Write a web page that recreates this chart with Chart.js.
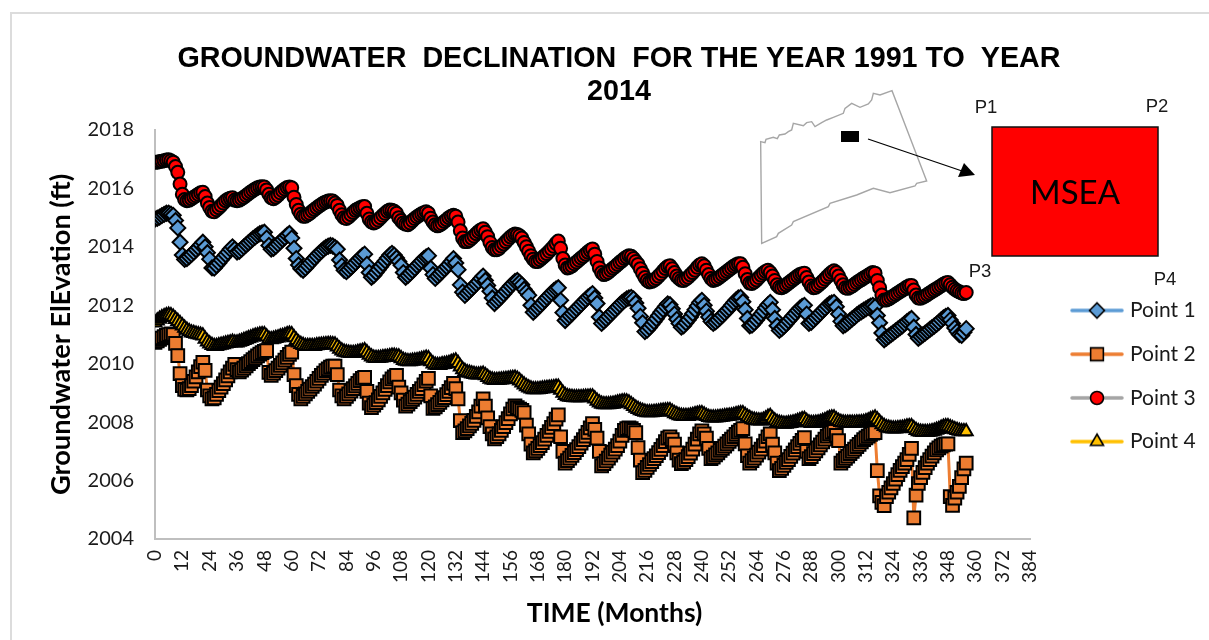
<!DOCTYPE html>
<html>
<head>
<meta charset="utf-8">
<title>Groundwater declination</title>
<script src="https://cdn.jsdelivr.net/npm/chart.js@4/dist/chart.umd.min.js"></script>
<style>
html,body{margin:0;padding:0;background:#fff;overflow:hidden}
canvas{display:block}
</style>
</head>
<body>
<canvas id="c" width="1209" height="640"></canvas>
<script>
const chartTitle = ['GROUNDWATER  DECLINATION  FOR THE YEAR 1991 TO  YEAR', '2014'];
const xTitle = 'TIME (Months)';
const yTitle = 'Groundwater ElEvation (ft)';
const seriesNames = ['Point 1', 'Point 2', 'Point 3', 'Point 4'];

const point1 = [
2014.95,2014.98,2015.02,2015.07,2015.11,2015.15,2015.15,2015.12,2015.08,2014.90,2014.65,2014.16,
2013.72,2013.57,2013.60,2013.67,2013.74,2013.82,2013.90,2013.98,2014.07,2014.16,2014.00,2013.80,
2013.58,2013.28,2013.27,2013.36,2013.45,2013.55,2013.64,2013.73,2013.82,2013.92,2014.00,2013.92,
2013.82,2013.85,2013.92,2014.00,2014.07,2014.14,2014.21,2014.28,2014.34,2014.40,2014.45,2014.48,
2014.50,2014.30,2014.05,2013.92,2013.95,2014.02,2014.10,2014.18,2014.25,2014.32,2014.40,2014.46,
2014.30,2013.95,2013.60,2013.38,2013.25,2013.20,2013.27,2013.36,2013.45,2013.53,2013.62,2013.70,
2013.78,2013.85,2013.92,2013.98,2014.02,2014.05,2014.03,2013.98,2013.92,2013.55,2013.35,2013.20,
2013.15,2013.22,2013.30,2013.38,2013.46,2013.54,2013.62,2013.70,2013.75,2013.40,2013.12,2012.96,
2013.02,2013.12,2013.22,2013.32,2013.42,2013.52,2013.62,2013.72,2013.78,2013.72,2013.62,2013.50,
2013.37,2013.12,2012.96,2013.02,2013.10,2013.18,2013.27,2013.36,2013.44,2013.52,2013.60,2013.66,
2013.70,2013.27,2013.05,2012.92,2013.00,2013.08,2013.16,2013.24,2013.32,2013.40,2013.50,2013.60,
2013.45,2013.22,2012.70,2012.45,2012.34,2012.42,2012.50,2012.58,2012.66,2012.74,2012.82,2012.92,
2013.00,2012.85,2012.68,2012.48,2012.25,2012.06,2012.14,2012.22,2012.30,2012.39,2012.48,2012.57,
2012.66,2012.74,2012.82,2012.85,2012.78,2012.70,2012.55,2012.45,2012.34,2012.00,2011.76,2011.84,
2011.92,2012.00,2012.08,2012.17,2012.26,2012.34,2012.42,2012.50,2012.56,2012.60,2012.17,2011.75,
2011.48,2011.56,2011.64,2011.72,2011.80,2011.88,2011.96,2012.04,2012.12,2012.20,2012.28,2012.34,
2012.40,2012.25,2012.06,2011.60,2011.38,2011.46,2011.54,2011.62,2011.70,2011.78,2011.86,2011.94,
2012.02,2012.10,2012.16,2012.22,2012.25,2012.27,2012.22,2012.08,2011.90,2011.62,2011.40,2011.10,
2011.15,2011.24,2011.34,2011.44,2011.54,2011.65,2011.76,2011.86,2011.96,2012.05,2012.02,2011.88,
2011.70,2011.52,2011.38,2011.25,2011.30,2011.40,2011.50,2011.60,2011.72,2011.85,2011.98,2012.10,
2012.17,2012.00,2011.80,2011.60,2011.45,2011.38,2011.43,2011.50,2011.58,2011.66,2011.74,2011.82,
2011.90,2012.00,2012.10,2012.18,2012.25,2012.27,2012.12,2011.85,2011.55,2011.30,2011.32,2011.40,
2011.50,2011.60,2011.70,2011.80,2011.92,2012.02,2012.10,2011.85,2011.55,2011.30,2011.14,2011.20,
2011.28,2011.37,2011.46,2011.55,2011.64,2011.73,2011.82,2011.90,2011.96,2012.00,2011.70,2011.38,
2011.42,2011.50,2011.58,2011.66,2011.74,2011.82,2011.90,2011.98,2012.05,2012.08,2012.10,2011.95,
2011.70,2011.45,2011.30,2011.34,2011.40,2011.47,2011.54,2011.60,2011.67,2011.73,2011.78,2011.83,
2011.88,2011.93,2011.97,2012.00,2011.95,2011.65,2011.40,2011.05,2010.82,2010.88,2010.94,2011.00,
2011.06,2011.12,2011.18,2011.24,2011.30,2011.37,2011.44,2011.50,2011.55,2011.25,2011.00,2010.87,
2010.93,2010.99,2011.05,2011.11,2011.17,2011.23,2011.29,2011.35,2011.42,2011.50,2011.57,2011.62,
2011.65,2011.50,2011.38,2011.22,2011.10,2011.00,2010.97,2011.08,2011.20
];

const point2 = [
2010.73,2010.78,2010.83,2010.88,2010.93,2010.97,2011.00,2011.02,2011.00,2010.70,2010.28,2009.66,
2009.25,2009.12,2009.10,2009.15,2009.25,2009.40,2009.55,2009.72,2009.90,2010.05,2009.77,2009.10,
2008.90,2008.80,2008.83,2008.95,2009.08,2009.20,2009.32,2009.45,2009.58,2009.72,2009.85,2009.98,
2009.80,2009.72,2009.78,2009.85,2009.93,2010.00,2010.07,2010.14,2010.20,2010.27,2010.33,2010.38,
2010.42,2010.45,2009.70,2009.60,2009.68,2009.76,2009.85,2009.94,2010.03,2010.12,2010.22,2010.32,
2010.40,2009.63,2009.25,2008.95,2008.80,2008.88,2008.97,2009.05,2009.13,2009.22,2009.30,2009.40,
2009.50,2009.60,2009.68,2009.76,2009.82,2009.88,2009.92,2009.92,2009.63,2009.10,2008.90,2008.80,
2008.88,2008.97,2009.06,2009.15,2009.24,2009.33,2009.42,2009.50,2009.53,2009.05,2008.65,2008.50,
2008.58,2008.67,2008.76,2008.88,2009.00,2009.12,2009.25,2009.38,2009.48,2009.55,2009.60,2009.20,
2009.00,2008.75,2008.55,2008.62,2008.70,2008.78,2008.86,2008.95,2009.05,2009.15,2009.28,2009.40,
2009.50,2008.90,2008.47,2008.52,2008.60,2008.68,2008.76,2008.84,2008.94,2009.05,2009.18,2009.33,
2009.15,2008.80,2008.05,2007.64,2007.70,2007.78,2007.87,2007.96,2008.06,2008.20,2008.35,2008.55,
2008.80,2008.55,2008.15,2007.85,2007.60,2007.43,2007.50,2007.60,2007.72,2007.85,2007.98,2008.12,
2008.28,2008.45,2008.56,2008.50,2008.45,2008.40,2008.33,2007.90,2007.60,2007.25,2006.95,2007.02,
2007.10,2007.20,2007.30,2007.42,2007.55,2007.68,2007.82,2007.95,2008.10,2008.25,2007.50,2007.00,
2006.60,2006.68,2006.77,2006.86,2006.96,2007.06,2007.16,2007.28,2007.40,2007.52,2007.65,2007.80,
2007.95,2007.75,2007.45,2007.00,2006.50,2006.58,2006.67,2006.77,2006.87,2006.97,2007.08,2007.20,
2007.35,2007.55,2007.72,2007.78,2007.80,2007.78,2007.72,2007.64,2007.13,2006.70,2006.27,2006.35,
2006.45,2006.55,2006.65,2006.75,2006.85,2006.96,2007.07,2007.20,2007.33,2007.45,2007.50,2007.40,
2007.25,2006.95,2006.70,2006.58,2006.63,2006.72,2006.82,2006.94,2007.08,2007.25,2007.42,2007.60,
2007.70,2007.60,2007.45,2007.10,2006.75,2006.80,2006.88,2006.95,2007.03,2007.10,2007.18,2007.26,
2007.34,2007.42,2007.50,2007.58,2007.66,2007.72,2007.78,2007.26,2006.85,2006.60,2006.68,2006.77,
2006.87,2006.97,2007.08,2007.20,2007.35,2007.50,2007.60,2007.25,2006.95,2006.60,2006.34,2006.42,
2006.52,2006.62,2006.72,2006.83,2006.94,2007.05,2007.16,2007.27,2007.38,2007.47,2007.00,2006.75,
2006.82,2006.92,2007.02,2007.12,2007.22,2007.32,2007.42,2007.52,2007.60,2007.66,2007.70,2007.55,
2007.37,2006.60,2006.68,2006.76,2006.84,2006.92,2007.00,2007.08,2007.16,2007.24,2007.32,2007.40,
2007.46,2007.52,2007.58,2007.62,2007.64,2006.34,2005.48,2005.25,2005.14,2005.45,2005.60,2005.75,
2005.90,2006.05,2006.20,2006.35,2006.48,2006.60,2006.72,2006.90,2007.10,2004.72,2005.50,2005.90,
2006.10,2006.28,2006.44,2006.60,2006.72,2006.84,2006.95,2007.05,2007.12,2007.18,2007.22,2007.25,
2007.26,2005.45,2005.15,2005.40,2005.60,2005.80,2006.10,2006.40,2006.60
];

const point3 = [
2016.90,2016.90,2016.92,2016.93,2016.95,2016.97,2016.98,2016.95,2016.90,2016.75,2016.55,2016.15,
2015.80,2015.62,2015.58,2015.60,2015.65,2015.70,2015.75,2015.80,2015.85,2015.87,2015.72,2015.50,
2015.35,2015.22,2015.20,2015.27,2015.34,2015.42,2015.50,2015.58,2015.63,2015.66,2015.68,2015.60,
2015.58,2015.60,2015.65,2015.70,2015.76,2015.82,2015.88,2015.93,2015.98,2016.02,2016.05,2016.06,
2016.05,2015.95,2015.80,2015.68,2015.65,2015.70,2015.77,2015.85,2015.92,2015.98,2016.03,2016.05,
2016.02,2015.70,2015.45,2015.25,2015.12,2015.05,2015.05,2015.10,2015.15,2015.22,2015.28,2015.34,
2015.40,2015.45,2015.50,2015.54,2015.57,2015.58,2015.57,2015.50,2015.42,2015.25,2015.10,2015.00,
2014.97,2015.02,2015.10,2015.18,2015.25,2015.30,2015.34,2015.37,2015.38,2015.15,2014.95,2014.85,
2014.82,2014.85,2014.92,2015.00,2015.08,2015.15,2015.22,2015.26,2015.25,2015.22,2015.15,2015.00,
2014.90,2014.82,2014.78,2014.76,2014.82,2014.90,2014.97,2015.03,2015.08,2015.13,2015.17,2015.20,
2015.15,2014.98,2014.85,2014.76,2014.72,2014.75,2014.80,2014.87,2014.93,2015.00,2015.05,2015.08,
2015.05,2014.85,2014.55,2014.30,2014.18,2014.18,2014.23,2014.30,2014.37,2014.45,2014.52,2014.58,
2014.62,2014.50,2014.35,2014.15,2013.98,2013.90,2013.90,2013.95,2014.03,2014.10,2014.18,2014.26,
2014.34,2014.40,2014.44,2014.42,2014.38,2014.30,2014.15,2014.00,2013.85,2013.70,2013.58,2013.50,
2013.50,2013.56,2013.63,2013.70,2013.77,2013.85,2013.93,2014.02,2014.12,2014.20,2013.95,2013.60,
2013.38,2013.28,2013.30,2013.35,2013.42,2013.48,2013.55,2013.62,2013.68,2013.75,2013.82,2013.88,
2013.93,2013.75,2013.50,2013.28,2013.12,2013.05,2013.08,2013.13,2013.20,2013.27,2013.33,2013.40,
2013.47,2013.53,2013.60,2013.65,2013.70,2013.68,2013.60,2013.50,2013.40,2013.25,2013.10,2012.95,
2012.85,2012.80,2012.82,2012.86,2012.92,2013.00,2013.08,2013.17,2013.26,2013.33,2013.35,2013.25,
2013.12,2013.00,2012.92,2012.86,2012.85,2012.90,2012.96,2013.04,2013.12,2013.20,2013.30,2013.38,
2013.42,2013.35,2013.20,2013.05,2012.92,2012.85,2012.88,2012.92,2012.98,2013.04,2013.10,2013.16,
2013.22,2013.28,2013.34,2013.39,2013.42,2013.42,2013.30,2013.08,2012.88,2012.76,2012.75,2012.80,
2012.87,2012.95,2013.03,2013.10,2013.16,2013.20,2013.12,2013.00,2012.85,2012.70,2012.62,2012.60,
2012.64,2012.70,2012.76,2012.82,2012.88,2012.94,2013.00,2013.05,2013.08,2013.10,2012.95,2012.80,
2012.66,2012.60,2012.62,2012.68,2012.75,2012.82,2012.90,2012.98,2013.06,2013.13,2013.18,2013.12,
2013.00,2012.85,2012.70,2012.60,2012.58,2012.62,2012.66,2012.72,2012.78,2012.83,2012.88,2012.93,
2012.98,2013.03,2013.08,2013.12,2013.10,2012.85,2012.60,2012.35,2012.18,2012.18,2012.22,2012.27,
2012.32,2012.37,2012.42,2012.47,2012.52,2012.57,2012.63,2012.67,2012.68,2012.52,2012.35,2012.25,
2012.24,2012.28,2012.32,2012.37,2012.42,2012.47,2012.52,2012.57,2012.62,2012.67,2012.72,2012.76,
2012.78,2012.70,2012.62,2012.55,2012.50,2012.46,2012.42,2012.40,2012.44
];

const point4 = [
2011.40,2011.47,2011.53,2011.58,2011.62,2011.65,2011.67,2011.65,2011.60,2011.52,2011.45,2011.38,
2011.30,2011.22,2011.15,2011.10,2011.06,2011.04,2011.02,2011.00,2010.98,2010.96,2010.85,2010.75,
2010.68,2010.63,2010.60,2010.60,2010.62,2010.64,2010.66,2010.68,2010.70,2010.72,2010.74,2010.72,
2010.72,2010.74,2010.77,2010.80,2010.83,2010.86,2010.89,2010.92,2010.95,2010.97,2010.99,2011.00,
2011.00,2010.92,2010.85,2010.83,2010.85,2010.87,2010.89,2010.92,2010.94,2010.97,2011.00,2011.02,
2011.00,2010.90,2010.80,2010.72,2010.67,2010.63,2010.60,2010.60,2010.60,2010.60,2010.60,2010.62,
2010.63,2010.64,2010.65,2010.66,2010.67,2010.67,2010.66,2010.65,2010.58,2010.50,2010.44,2010.40,
2010.38,2010.37,2010.36,2010.36,2010.37,2010.39,2010.41,2010.43,2010.45,2010.38,2010.30,2010.24,
2010.20,2010.19,2010.19,2010.20,2010.21,2010.22,2010.23,2010.25,2010.26,2010.26,2010.25,2010.24,
2010.18,2010.12,2010.09,2010.08,2010.08,2010.09,2010.10,2010.11,2010.13,2010.15,2010.17,2010.20,
2010.18,2010.08,2010.00,2009.96,2009.95,2009.95,2009.97,2009.98,2010.00,2010.02,2010.05,2010.08,
2010.10,2010.02,2009.90,2009.80,2009.74,2009.70,2009.68,2009.66,2009.64,2009.62,2009.62,2009.63,
2009.65,2009.60,2009.54,2009.48,2009.45,2009.43,2009.43,2009.44,2009.45,2009.46,2009.47,2009.48,
2009.49,2009.50,2009.51,2009.48,2009.42,2009.35,2009.28,2009.22,2009.18,2009.14,2009.12,2009.12,
2009.12,2009.13,2009.14,2009.15,2009.16,2009.17,2009.18,2009.19,2009.20,2009.20,2009.10,2009.00,
2008.92,2008.88,2008.86,2008.85,2008.84,2008.84,2008.84,2008.84,2008.85,2008.86,2008.86,2008.87,
2008.87,2008.80,2008.72,2008.66,2008.62,2008.60,2008.60,2008.60,2008.61,2008.62,2008.64,2008.66,
2008.68,2008.70,2008.71,2008.70,2008.66,2008.60,2008.54,2008.48,2008.44,2008.40,2008.37,2008.35,
2008.33,2008.33,2008.33,2008.34,2008.35,2008.36,2008.37,2008.38,2008.39,2008.40,2008.40,2008.35,
2008.30,2008.26,2008.23,2008.21,2008.20,2008.20,2008.20,2008.22,2008.24,2008.26,2008.28,2008.30,
2008.30,2008.25,2008.20,2008.17,2008.15,2008.15,2008.15,2008.16,2008.17,2008.18,2008.19,2008.20,
2008.21,2008.22,2008.24,2008.26,2008.28,2008.30,2008.30,2008.24,2008.18,2008.13,2008.09,2008.07,
2008.06,2008.05,2008.05,2008.07,2008.12,2008.18,2008.20,2008.12,2008.05,2008.00,2007.97,2007.95,
2007.94,2007.94,2007.95,2007.96,2007.98,2008.00,2008.03,2008.06,2008.09,2008.10,2008.03,2007.98,
2007.96,2007.96,2007.97,2007.98,2008.00,2008.03,2008.06,2008.10,2008.13,2008.15,2008.15,2008.08,
2008.03,2008.00,2007.98,2007.97,2007.97,2007.97,2007.97,2007.97,2007.98,2007.98,2007.99,2008.00,
2008.02,2008.05,2008.09,2008.12,2008.15,2008.08,2008.00,2007.92,2007.86,2007.82,2007.80,2007.78,
2007.77,2007.77,2007.78,2007.79,2007.80,2007.82,2007.84,2007.85,2007.85,2007.78,2007.72,2007.68,
2007.66,2007.65,2007.65,2007.65,2007.66,2007.68,2007.70,2007.73,2007.76,2007.80,2007.83,2007.85,
2007.85,2007.82,2007.78,2007.75,2007.72,2007.70,2007.68,2007.68,2007.68
];

const BODY = 'Lato, "Open Sans", sans-serif';
const HEAD = '"Liberation Sans", Arial, sans-serif';
const looks = [
  {line:'#5B9BD5', fill:'#5B9BD5', style:'rectRot',  radius:7.5},
  {line:'#ED7D31', fill:'#ED7D31', style:'rect',     radius:9},
  {line:'#A5A5A5', fill:'#FF0000', style:'circle',   radius:6.5},
  {line:'#FFC000', fill:'#FFC000', style:'triangle', radius:7.5}
];
const values = [point1, point2, point3, point4];

function swatch(look){
  const cv = document.createElement('canvas');
  cv.width = 54; cv.height = 20;
  const g = cv.getContext('2d');
  g.strokeStyle = look.line; g.lineWidth = 3.5; g.lineCap = 'round';
  g.beginPath(); g.moveTo(2,10); g.lineTo(52,10); g.stroke();
  g.fillStyle = look.fill; g.strokeStyle = '#000'; g.lineWidth = 1.6;
  Chart.helpers.drawPoint(g, {pointStyle:look.style, radius:look.radius, borderWidth:1.6, rotation:0}, 27, 10);
  return cv;
}
const swatches = looks.map(swatch);

const inset = {
  id:'inset',
  beforeDraw(chart){
    const g = chart.ctx;
    g.save();
    g.strokeStyle = '#DCDCDC'; g.lineWidth = 2;
    g.beginPath(); g.moveTo(11,640); g.lineTo(11,13); g.lineTo(1209,13); g.stroke();
    g.restore();
  },
  afterDraw(chart){
    const g = chart.ctx;
    g.save();
    const P = (zx,zy)=>[740+zx/3, 80+zy/3];
    const outline = [[62,185],[75,188],[78,178],[100,172],[112,176],[118,165],[135,162],[145,155],[155,150],[160,130],[190,137],[200,128],[215,125],[225,140],[245,128],[260,120],[280,112],[310,100],[315,85],[335,70],[360,82],[385,72],[395,60],[400,40],[420,45],[456,32],[560,303],[530,310],[525,318],[450,338],[400,325],[350,345],[270,370],[265,380],[160,425],[155,435],[115,460],[110,470],[65,490]];
    g.strokeStyle = '#A6A6A6'; g.lineWidth = 1.4;
    g.beginPath();
    outline.forEach((p,i)=>{const q=P(p[0],p[1]); i?g.lineTo(q[0],q[1]):g.moveTo(q[0],q[1]);});
    g.closePath(); g.stroke();
    g.fillStyle = '#000'; g.fillRect(841,131,18,11);
    g.strokeStyle = '#000'; g.lineWidth = 1.3;
    g.beginPath(); g.moveTo(868,139); g.lineTo(965,172); g.stroke();
    g.beginPath(); g.moveTo(975,175); g.lineTo(964,163); g.lineTo(958,177); g.closePath(); g.fill();
    g.fillStyle = '#FF0000'; g.fillRect(992,127,166,129);
    g.strokeStyle = '#111'; g.lineWidth = 1.5; g.strokeRect(992,127,166,129);
    g.fillStyle = '#000'; g.textBaseline = 'middle'; g.textAlign = 'center';
    g.font = '33px ' + BODY; g.fillText('MSEA',1075,193);
    g.fillStyle = '#1a1a1a'; g.font = '18.5px ' + HEAD;
    g.fillText('P1',986,108); g.fillText('P2',1157,107); g.fillText('P3',980,272); g.fillText('P4',1165,280);
    g.restore();
  }
};

const placeLegend = {
  id:'placeLegend',
  beforeLayout(chart){
    const L = chart.legend;
    if (L && !L._fixed){
      L._fixed = true;
      const fit = L.fit;
      L.fit = function(){ fit.call(this); this.width = 179; };
    }
  },
  afterLayout(chart){
    const L = chart.legend;
    const w = L.width, h = L.height;
    const pad = chart.options.plugins.legend.labels.padding;
    L.left = 1074.5 - pad; L.right = L.left + w;
    L.top = 300 - pad; L.bottom = L.top + h;
    const X = chart.scales.x;
    if (!X._shifted){
      X._shifted = true;
      const dt = X.drawTitle;
      X.drawTitle = function(){
        const l=this.left, r=this.right;
        this.left = l + 22; this.right = r + 22;
        dt.call(this);
        this.left = l; this.right = r;
      };
    }
  }
};

new Chart(document.getElementById('c'), {
  type:'line',
  data:{
    datasets: seriesNames.map((name,i)=>({
      label:name,
      data: values[i].map((v,m)=>({x:m,y:v})),
      order: 4-i,
      borderColor: looks[i].line,
      backgroundColor: looks[i].fill,
      borderWidth:3,
      tension:0,
      pointStyle: looks[i].style,
      pointRadius: looks[i].radius,
      pointBackgroundColor: looks[i].fill,
      pointBorderColor:'#000',
      pointBorderWidth:2
    }))
  },
  options:{
    responsive:false,
    animation:false,
    events:[],
    layout:{padding:{left:29,right:0,top:0,bottom:0}},
    plugins:{
      tooltip:{enabled:false},
      title:{
        display:true, text:chartTitle, color:'#000',
        font:{family:HEAD,size:28.7,weight:'bold',lineHeight:1.15},
        padding:{top:43,bottom:21}
      },
      legend:{
        display:true, position:'right', align:'start',
        labels:{
          usePointStyle:true, pointStyleWidth:45, padding:22.7,
          color:'#1a1a1a', font:{family:BODY,size:21},
          sort:(a,b)=>a.datasetIndex-b.datasetIndex,
          generateLabels(chart){
            const items = Chart.defaults.plugins.legend.labels.generateLabels(chart);
            items.forEach(it=>{ it.pointStyle = swatches[it.datasetIndex]; });
            return items;
          }
        }
      }
    },
    scales:{
      x:{
        type:'linear', min:0, max:384,
        afterFit(s){ s.height = 101; },
        grid:{display:false, drawTicks:false},
        border:{display:true,color:'#BFBFBF',width:2},
        ticks:{stepSize:12,minRotation:90,maxRotation:90,padding:11,color:'#1a1a1a',font:{family:BODY,size:19}},
        title:{display:true,text:xTitle,color:'#000',font:{family:BODY,size:26.5,weight:'bold'},padding:{top:0,bottom:10.5}}
      },
      y:{
        type:'linear', min:2004, max:2018,
        afterFit(s){ s.width = 126; },
        grid:{display:false, drawTicks:false},
        border:{display:true,color:'#BFBFBF',width:2},
        ticks:{stepSize:2,padding:21,color:'#1a1a1a',font:{family:BODY,size:20},callback:v=>String(v)},
        title:{display:true,text:yTitle,color:'#000',font:{family:BODY,size:27.2,weight:'bold'},padding:{top:16,bottom:0}}
      }
    }
  },
  plugins:[inset,placeLegend]
});
</script>
</body>
</html>
